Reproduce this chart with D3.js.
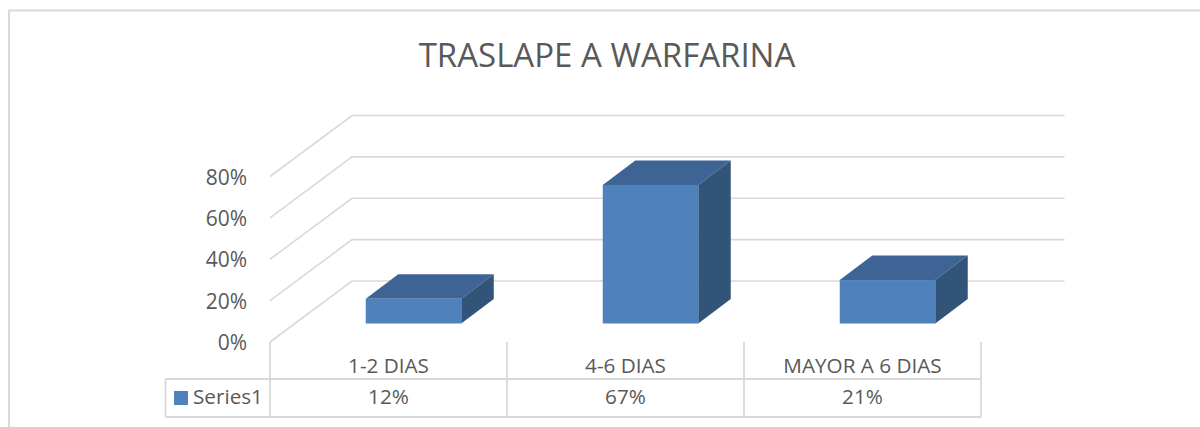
<!DOCTYPE html>
<html>
<head>
<meta charset="utf-8">
<script src="https://cdn.jsdelivr.net/npm/d3@7"></script>
<style>
    body { margin: 0; background: #fff; }
    text { font-family: "Open Sans", Lato, sans-serif; fill: #595959; }
</style>
</head>
<body>
<svg id="chart" width="1200" height="427"></svg>
<script>
const categories = ['1-2 DIAS', '4-6 DIAS', 'MAYOR A 6 DIAS'];
const values = [12, 67, 21];
const seriesName = 'Series1';
const ticks = [0, 20, 40, 60, 80];
const title = 'TRASLAPE A WARFARINA';

const gridColor = '#d9d9d9';
const svg = d3.select('#chart');

// front plane of the 3d box
const x = d3.scaleBand().domain(categories).range([270, 981]);
const y = d3.scaleLinear().domain([0, 80]).range([342, 176.5]);

// how far back the wall sits
const wallDx = 82, wallDy = -61;
const wallRight = 1064.5;
// bars sit part way into the floor and have their own depth
const barShiftX = 25, barShiftY = -18.5;
const depthX = 32.5, depthY = -24.5;
const barWidth = 95.5;

// chart border, only top and left show in the picture
svg.append('path')
    .attr('d', 'M9,427V10.5H1200')
    .attr('fill', 'none')
    .attr('stroke', gridColor)
    .attr('stroke-width', 2);

// gridlines: floor/side diagonal then along the back wall
svg.append('g').selectAll('path')
    .data(ticks)
    .enter()
    .append('path')
    .attr('d', d => `M${x.range()[0]},${y(d)}l${wallDx},${wallDy}H${wallRight}`)
    .attr('fill', 'none')
    .attr('stroke', gridColor)
    .attr('stroke-width', 1.6);

// y axis labels
const yAxis = d3.axisLeft(y)
    .tickValues(ticks)
    .tickFormat(d => d + '%')
    .tickSize(0)
    .tickPadding(0);

const yG = svg.append('g')
    .attr('transform', 'translate(247,1)')
    .call(yAxis);
yG.select('.domain').remove();
yG.selectAll('text')
    .style('font-family', '"Open Sans", Lato, sans-serif')
    .style('font-size', '21px')
    .attr('fill', '#595959');

// bars
const bars = svg.append('g').selectAll('g')
    .data(values)
    .enter()
    .append('g')
    .attr('transform', (d, i) => {
        const left = x(categories[i]) + (x.bandwidth() - barWidth) / 2 + barShiftX;
        return `translate(${left},${barShiftY})`;
    });

bars.append('path')
    .attr('d', d => `M0,${y(d)}l${depthX},${depthY}h${barWidth}l${-depthX},${-depthY}z`)
    .attr('fill', '#3d6494');

bars.append('path')
    .attr('d', d => `M${barWidth},${y(d)}l${depthX},${depthY}V${y(0) + depthY}l${-depthX},${-depthY}z`)
    .attr('fill', '#335479');

bars.append('rect')
    .attr('x', 0)
    .attr('y', d => y(d))
    .attr('width', barWidth)
    .attr('height', d => y(0) - y(d))
    .attr('fill', '#4f81bd');

// data table under the chart
const tableTop = 379, tableBottom = 417, tableLeft = 165.5;

const tableLines = svg.append('g')
    .attr('stroke', gridColor)
    .attr('stroke-width', 1.8)
    .attr('fill', 'none');

tableLines.append('path')
    .attr('d', `M${tableLeft},${tableTop}H${x.range()[1]}M${tableLeft},${tableBottom}H${x.range()[1]}M${tableLeft},${tableTop}V${tableBottom}`);

tableLines.selectAll('line')
    .data(categories.map(c => x(c)).concat(x.range()[1]))
    .enter()
    .append('line')
    .attr('x1', d => d)
    .attr('x2', d => d)
    .attr('y1', y(0))
    .attr('y2', tableBottom);

svg.append('g').selectAll('text')
    .data(categories)
    .enter()
    .append('text')
    .attr('x', d => x(d) + x.bandwidth() / 2)
    .attr('y', 373)
    .attr('text-anchor', 'middle')
    .attr('font-size', 20.7)
    .text(d => d);

svg.append('g').selectAll('text')
    .data(values)
    .enter()
    .append('text')
    .attr('x', (d, i) => x(categories[i]) + x.bandwidth() / 2)
    .attr('y', 404)
    .attr('text-anchor', 'middle')
    .attr('font-size', 20.7)
    .text(d => d + '%');

// legend key
svg.append('rect')
    .attr('x', 174)
    .attr('y', 391)
    .attr('width', 14)
    .attr('height', 14)
    .attr('fill', '#4f81bd');

svg.append('text')
    .attr('x', 193)
    .attr('y', 404)
    .attr('font-size', 20.7)
    .text(seriesName);

svg.append('text')
    .attr('x', 607)
    .attr('y', 67)
    .attr('text-anchor', 'middle')
    .attr('font-size', 33)
    .text(title);
</script>
</body>
</html>
